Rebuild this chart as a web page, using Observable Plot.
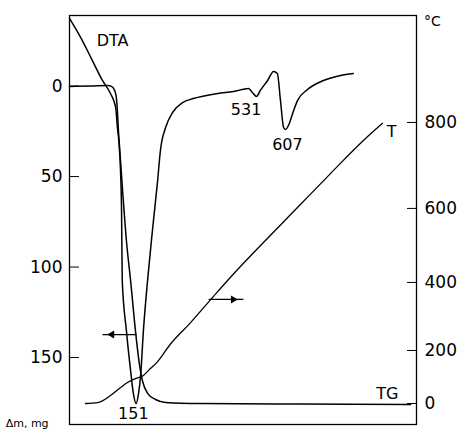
<!DOCTYPE html>
<html>
<head>
<meta charset="utf-8">
<script src="https://cdn.jsdelivr.net/npm/d3@7"></script>
<script src="https://cdn.jsdelivr.net/npm/@observablehq/plot@0.6"></script>
<style>
  html, body { margin: 0; padding: 0; background: #fff; }
  svg { display: block; }
</style>
</head>
<body>
<div id="chart"></div>
<script>
// ---- data (x: arbitrary time units 0..100 across the frame) ----
// TG: mass loss, mg (left axis, increasing downward)
const tgTime = [0, 6.1, 11.0, 12.1, 13.0, 13.5, 13.8, 14.1, 14.4, 15.3, 16.4, 17.6, 19.0, 20.2, 21.0, 22.5, 24.8, 27.7, 37.8, 66.6, 98.3];
const tgMass = [0.2, 0, -0.3, 0.2, 2.4, 6.3, 13.5, 24.5, 32.8, 57.7, 85.3, 107.4, 135.1, 154.4, 162.7, 169.8, 173.2, 174.8, 175.4, 175.7, 175.9];

// DTA signal (no own axis, drawn in the same vertical units)
const dtaTime = [0, 3.2, 6.6, 9.5, 11.8, 13.3, 13.8, 14.2, 14.7, 15.0, 15.2, 16.4, 17.6, 18.4, 19.2, 19.9, 20.5, 21.3, 22.5, 23.9, 25.4, 26.2, 27.7, 29.7, 32.6, 35.7, 42.7, 47.3, 51.6, 52.7, 53.9, 55.0, 57.1, 58.8, 59.9, 60.8, 61.7, 62.2, 63.1, 64.3, 65.7, 68.6, 73.2, 78.1, 81.8];
const dtaSignal = [-37.4, -26.9, -14.1, -3.1, 4.1, 11.8, 22.9, 30.1, 46.6, 68.7, 107.4, 135.1, 157.1, 169.8, 175.4, 169.8, 159.9, 135.1, 107.4, 79.8, 52.2, 35.6, 22.9, 14.6, 9.1, 6.9, 4.1, 3.0, 1.3, 3.5, 5.7, 2.4, -3.1, -8.1, -7.0, 8.0, 22.9, 24.0, 21.8, 15.1, 8.0, 1.9, -3.1, -5.9, -7.0];

// T: temperature, °C (right axis)
const tTime = [4.6, 8.1, 11.8, 14.7, 16.7, 19.0, 21.3, 22.8, 25.4, 29.1, 34.9, 41.5, 46.4, 55.9, 65.7, 75.2, 84.7, 90.2];
const tTemp = [0, 3, 30, 60, 79, 94, 106, 125, 158, 219, 282, 359, 414, 508, 602, 681, 758, 798];

// axes
const massTicks = [0, 50, 100, 150];
const tempTicks = [0, 200, 400, 600, 800];
// where each temperature tick sits on the (non-linear) right scale, in left-axis units
const tempTickLevel = [175.4, 146.1, 108.5, 67.6, 20.1];

// annotations
const labelText = ["DTA", "151", "531", "607", "T", "TG"];
const labelTime = [12.4, 18.4, 50.9, 62.8, 92.8, 91.6];
const labelLevel = [-25.2, 181.2, 12.9, 32.3, 25.4, 170.1];

// direction arrows: tail start, head position, tail end, level, direction
const arrowFrom = [19.3, 40.1];
const arrowHead = [12.2, 47.2];
const arrowTo = [9.5, 50.1];
const arrowLevel = [137.3, 117.9];
const arrowRotate = [-90, 90];

// ---- build ----
const tempToLevel = d3.scaleLinear().domain(tempTicks).range(tempTickLevel);

const tg = tgTime.map((t, i) => ({t, v: tgMass[i]}));
const dta = dtaTime.map((t, i) => ({t, v: dtaSignal[i]}));
const temp = tTime.map((t, i) => ({t, v: tempToLevel(tTemp[i])}));
const labels = labelText.map((s, i) => ({s, t: labelTime[i], v: labelLevel[i]}));
const arrows = arrowFrom.map((a, i) => ({a, h: arrowHead[i], b: arrowTo[i], v: arrowLevel[i], r: arrowRotate[i]}));

const font = "DejaVu Sans";

const chart = Plot.plot({
  width: 461,
  height: 431,
  marginTop: 15,
  marginBottom: 7,
  marginLeft: 69,
  marginRight: 45,
  x: {domain: [0, 100], axis: null},
  y: {domain: [-39, 187], reverse: true, axis: null},
  style: {fontFamily: font, fontSize: "17px", color: "black", background: "white"},
  marks: [
    Plot.frame({stroke: "black", strokeWidth: 1.3}),
    // left axis (mass)
    Plot.axisY(massTicks, {anchor: "left", tickSize: -10, tickFormat: () => "", label: null, strokeWidth: 1}),
    Plot.axisY(massTicks, {anchor: "left", tickSize: 0, tickPadding: 7, label: null, fontSize: 17}),
    // right axis (temperature, non-linear)
    Plot.axisY(tempTickLevel, {anchor: "right", tickSize: -10, tickFormat: () => "", label: null, strokeWidth: 1}),
    Plot.axisY(tempTickLevel, {anchor: "right", tickSize: 0, tickPadding: 8, label: null, fontSize: 17,
      tickFormat: d => String(Math.round(tempToLevel.invert(d)))}),
    // curves
    Plot.line(dta, {x: "t", y: "v", curve: "monotone-x", stroke: "black", strokeWidth: 1.5}),
    Plot.line(tg, {x: "t", y: "v", curve: "monotone-x", stroke: "black", strokeWidth: 1.5}),
    Plot.line(temp, {x: "t", y: "v", curve: "monotone-x", stroke: "black", strokeWidth: 1.3}),
    // arrows
    Plot.link(arrows, {x1: "a", x2: "b", y1: "v", y2: "v", stroke: "black", strokeWidth: 1.3}),
    Plot.dot(arrows, {x: "h", y: "v", symbol: "triangle", r: 3, fill: "black", stroke: "none", rotate: "r"}),
    // labels
    Plot.text(labels, {x: "t", y: "v", text: "s", fontSize: 16, fill: "black", textAnchor: "middle"}),
    Plot.text(["°C"], {x: 104.6, y: -35.7, text: d => d, fontSize: 14, fill: "black", textAnchor: "middle"}),
    Plot.text(["Δm, mg"], {x: -18.4, y: 186.5, text: d => d, fontSize: 11, fill: "black", textAnchor: "start"})
  ]
});

document.getElementById("chart").appendChild(chart);
</script>
</body>
</html>
